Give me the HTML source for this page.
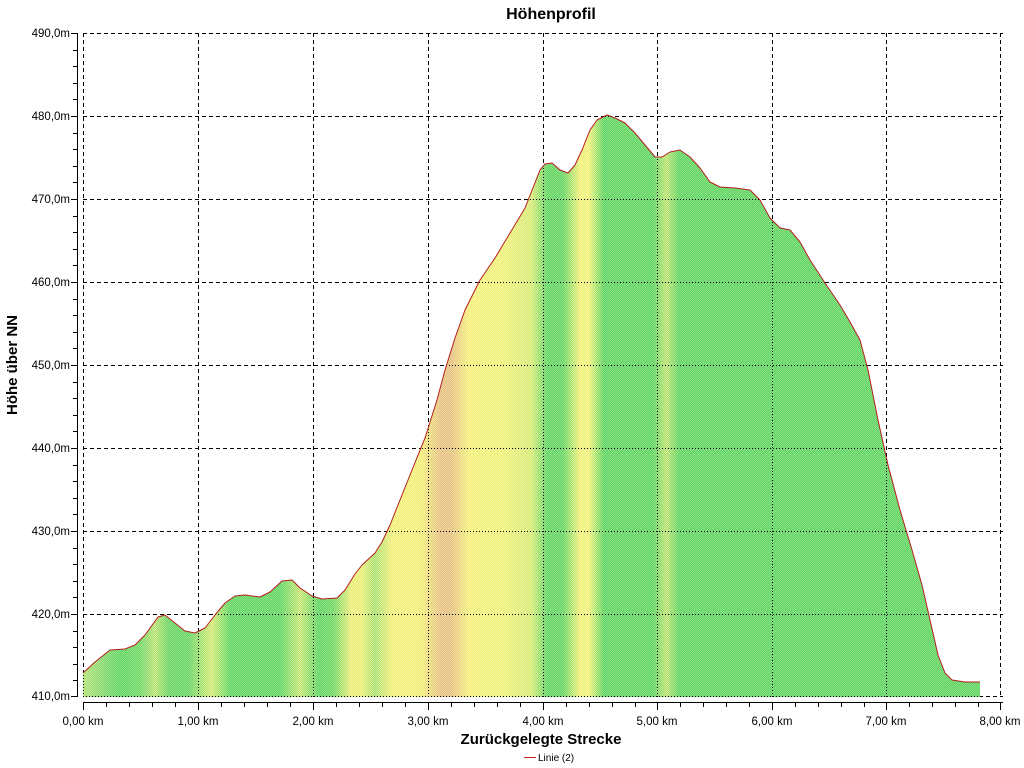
<!DOCTYPE html>
<html><head><meta charset="utf-8"><style>
body{margin:0;background:#fff;}
svg{display:block;font-family:"Liberation Sans",sans-serif;}
</style></head><body>
<svg width="1024" height="768" viewBox="0 0 1024 768" xmlns="http://www.w3.org/2000/svg">
<defs>
<linearGradient id="g" gradientUnits="userSpaceOnUse" x1="83" y1="0" x2="1003" y2="0">
<stop offset="0" stop-color="#b0e272"/>
<stop offset="0.02" stop-color="#84d86a"/>
<stop offset="0.04" stop-color="#5cd45c"/>
<stop offset="0.062" stop-color="#6cd660"/>
<stop offset="0.078" stop-color="#b8e270"/>
<stop offset="0.094" stop-color="#64d45e"/>
<stop offset="0.115" stop-color="#64d45e"/>
<stop offset="0.140" stop-color="#d4ea72"/>
<stop offset="0.16" stop-color="#5cd45c"/>
<stop offset="0.215" stop-color="#60d45e"/>
<stop offset="0.236" stop-color="#c4e66e"/>
<stop offset="0.256" stop-color="#5cd45c"/>
<stop offset="0.272" stop-color="#6cd660"/>
<stop offset="0.292" stop-color="#eeee74"/>
<stop offset="0.303" stop-color="#eaee74"/>
<stop offset="0.317" stop-color="#a8e06c"/>
<stop offset="0.336" stop-color="#f2f076"/>
<stop offset="0.368" stop-color="#f2ee76"/>
<stop offset="0.388" stop-color="#e6c27e"/>
<stop offset="0.401" stop-color="#e6c27e"/>
<stop offset="0.42" stop-color="#f4f076"/>
<stop offset="0.46" stop-color="#eef076"/>
<stop offset="0.488" stop-color="#d4ea72"/>
<stop offset="0.505" stop-color="#5cd45c"/>
<stop offset="0.522" stop-color="#64d45e"/>
<stop offset="0.540" stop-color="#f2f076"/>
<stop offset="0.550" stop-color="#f0f076"/>
<stop offset="0.566" stop-color="#5cd45c"/>
<stop offset="0.62" stop-color="#5cd45c"/>
<stop offset="0.634" stop-color="#bce26e"/>
<stop offset="0.648" stop-color="#5cd45c"/>
<stop offset="1" stop-color="#5cd45c"/>
</linearGradient>
<pattern id="h" width="2" height="2" patternUnits="userSpaceOnUse">
<rect x="0" y="0" width="1" height="1" fill="#fff" fill-opacity="0.3"/>
<rect x="1" y="1" width="1" height="1" fill="#fff" fill-opacity="0.3"/>
</pattern>
<clipPath id="c"><path id="ap" d="M83,697 L83,673 L95,662 L110,650 L125,649 L135,645 L145,635 L158,617 L165,615 L175,623 L185,631 L195,633 L205,628 L215,615 L225,603 L235,596 L245,595 L260,597 L270,592 L282,581 L292,580 L300,588 L312,596 L322,599 L337,598 L345,590 L355,574 L362,565 L375,553 L382,542 L390,525 L400,500 L412,470 L425,438 L437,400 L445,370 L455,338 L465,310 L480,280 L495,258 L510,233 L525,208 L540,170 L545,164 L552,163 L560,170 L568,173 L575,165 L582,150 L590,130 L597,120 L607,115 L615,118 L625,123 L635,133 L645,145 L655,157 L662,157 L670,152 L680,150 L690,157 L700,168 L710,182 L720,187 L735,188 L750,190 L760,200 L770,218 L780,228 L790,230 L800,242 L810,260 L825,283 L840,305 L850,322 L860,340 L868,370 L878,420 L888,465 L900,510 L912,550 L922,585 L930,620 L938,655 L945,673 L952,680 L965,682 L980,682 L980,697 Z"/></clipPath>
</defs>
<text x="551" y="19" font-size="16" font-weight="bold" text-anchor="middle">Höhenprofil</text>
<g stroke="#000" stroke-width="1" stroke-dasharray="4,3">
<line x1="83" y1="33.5" x2="1003" y2="33.5"/><line x1="83" y1="116.5" x2="1003" y2="116.5"/><line x1="83" y1="199.5" x2="1003" y2="199.5"/><line x1="83" y1="282.5" x2="1003" y2="282.5"/><line x1="83" y1="365.5" x2="1003" y2="365.5"/><line x1="83" y1="448.5" x2="1003" y2="448.5"/><line x1="83" y1="531.5" x2="1003" y2="531.5"/><line x1="83" y1="614.5" x2="1003" y2="614.5"/><line x1="83" y1="696.5" x2="1003" y2="696.5"/>
<line x1="83.5" y1="33" x2="83.5" y2="697"/><line x1="198.5" y1="33" x2="198.5" y2="697"/><line x1="313.5" y1="33" x2="313.5" y2="697"/><line x1="428.5" y1="33" x2="428.5" y2="697"/><line x1="543.5" y1="33" x2="543.5" y2="697"/><line x1="657.5" y1="33" x2="657.5" y2="697"/><line x1="772.5" y1="33" x2="772.5" y2="697"/><line x1="886.5" y1="33" x2="886.5" y2="697"/><line x1="1000.5" y1="33" x2="1000.5" y2="697"/>
</g>
<g clip-path="url(#c)" stroke="#000" stroke-width="1" stroke-dasharray="1,2">
<rect x="83" y="30" width="920" height="670" fill="url(#g)" stroke="none"/>
<rect x="83" y="30" width="920" height="670" fill="url(#h)" stroke="none"/>
<line x1="83" y1="116.5" x2="1003" y2="116.5"/><line x1="83" y1="199.5" x2="1003" y2="199.5"/><line x1="83" y1="282.5" x2="1003" y2="282.5"/><line x1="83" y1="365.5" x2="1003" y2="365.5"/><line x1="83" y1="448.5" x2="1003" y2="448.5"/><line x1="83" y1="531.5" x2="1003" y2="531.5"/><line x1="83" y1="614.5" x2="1003" y2="614.5"/><line x1="83" y1="696.5" x2="1003" y2="696.5"/>
<line x1="83.5" y1="33" x2="83.5" y2="697"/><line x1="198.5" y1="33" x2="198.5" y2="697"/><line x1="313.5" y1="33" x2="313.5" y2="697"/><line x1="428.5" y1="33" x2="428.5" y2="697"/><line x1="543.5" y1="33" x2="543.5" y2="697"/><line x1="657.5" y1="33" x2="657.5" y2="697"/><line x1="772.5" y1="33" x2="772.5" y2="697"/><line x1="886.5" y1="33" x2="886.5" y2="697"/>
</g>
<path d="M83,673 L95,662 L110,650 L125,649 L135,645 L145,635 L158,617 L165,615 L175,623 L185,631 L195,633 L205,628 L215,615 L225,603 L235,596 L245,595 L260,597 L270,592 L282,581 L292,580 L300,588 L312,596 L322,599 L337,598 L345,590 L355,574 L362,565 L375,553 L382,542 L390,525 L400,500 L412,470 L425,438 L437,400 L445,370 L455,338 L465,310 L480,280 L495,258 L510,233 L525,208 L540,170 L545,164 L552,163 L560,170 L568,173 L575,165 L582,150 L590,130 L597,120 L607,115 L615,118 L625,123 L635,133 L645,145 L655,157 L662,157 L670,152 L680,150 L690,157 L700,168 L710,182 L720,187 L735,188 L750,190 L760,200 L770,218 L780,228 L790,230 L800,242 L810,260 L825,283 L840,305 L850,322 L860,340 L868,370 L878,420 L888,465 L900,510 L912,550 L922,585 L930,620 L938,655 L945,673 L952,680 L965,682 L980,682" fill="none" stroke="#b41e1e" stroke-width="1" stroke-linejoin="round"/>
<g stroke="#000" stroke-width="1">
<line x1="77.5" y1="33" x2="77.5" y2="697"/>
<line x1="83" y1="702.5" x2="1003" y2="702.5"/>
<line x1="71" y1="33.5" x2="78" y2="33.5"/><line x1="73" y1="50.5" x2="78" y2="50.5"/><line x1="73" y1="66.5" x2="78" y2="66.5"/><line x1="73" y1="83.5" x2="78" y2="83.5"/><line x1="73" y1="99.5" x2="78" y2="99.5"/>
<line x1="71" y1="116.5" x2="78" y2="116.5"/><line x1="73" y1="133.5" x2="78" y2="133.5"/><line x1="73" y1="149.5" x2="78" y2="149.5"/><line x1="73" y1="166.5" x2="78" y2="166.5"/><line x1="73" y1="182.5" x2="78" y2="182.5"/>
<line x1="71" y1="199.5" x2="78" y2="199.5"/><line x1="73" y1="216.5" x2="78" y2="216.5"/><line x1="73" y1="232.5" x2="78" y2="232.5"/><line x1="73" y1="249.5" x2="78" y2="249.5"/><line x1="73" y1="265.5" x2="78" y2="265.5"/>
<line x1="71" y1="282.5" x2="78" y2="282.5"/><line x1="73" y1="299.5" x2="78" y2="299.5"/><line x1="73" y1="315.5" x2="78" y2="315.5"/><line x1="73" y1="332.5" x2="78" y2="332.5"/><line x1="73" y1="348.5" x2="78" y2="348.5"/>
<line x1="71" y1="365.5" x2="78" y2="365.5"/><line x1="73" y1="382.5" x2="78" y2="382.5"/><line x1="73" y1="398.5" x2="78" y2="398.5"/><line x1="73" y1="415.5" x2="78" y2="415.5"/><line x1="73" y1="431.5" x2="78" y2="431.5"/>
<line x1="71" y1="448.5" x2="78" y2="448.5"/><line x1="73" y1="465.5" x2="78" y2="465.5"/><line x1="73" y1="481.5" x2="78" y2="481.5"/><line x1="73" y1="498.5" x2="78" y2="498.5"/><line x1="73" y1="514.5" x2="78" y2="514.5"/>
<line x1="71" y1="531.5" x2="78" y2="531.5"/><line x1="73" y1="548.5" x2="78" y2="548.5"/><line x1="73" y1="564.5" x2="78" y2="564.5"/><line x1="73" y1="581.5" x2="78" y2="581.5"/><line x1="73" y1="597.5" x2="78" y2="597.5"/>
<line x1="71" y1="614.5" x2="78" y2="614.5"/><line x1="73" y1="631.5" x2="78" y2="631.5"/><line x1="73" y1="647.5" x2="78" y2="647.5"/><line x1="73" y1="664.5" x2="78" y2="664.5"/><line x1="73" y1="680.5" x2="78" y2="680.5"/>
<line x1="71" y1="696.5" x2="78" y2="696.5"/>
<line x1="83.5" y1="702" x2="83.5" y2="710"/><line x1="106.5" y1="702" x2="106.5" y2="707"/><line x1="129.5" y1="702" x2="129.5" y2="707"/><line x1="152.5" y1="702" x2="152.5" y2="707"/><line x1="175.5" y1="702" x2="175.5" y2="707"/>
<line x1="198.5" y1="702" x2="198.5" y2="710"/><line x1="221.5" y1="702" x2="221.5" y2="707"/><line x1="244.5" y1="702" x2="244.5" y2="707"/><line x1="267.5" y1="702" x2="267.5" y2="707"/><line x1="290.5" y1="702" x2="290.5" y2="707"/>
<line x1="313.5" y1="702" x2="313.5" y2="710"/><line x1="336.5" y1="702" x2="336.5" y2="707"/><line x1="359.5" y1="702" x2="359.5" y2="707"/><line x1="382.5" y1="702" x2="382.5" y2="707"/><line x1="405.5" y1="702" x2="405.5" y2="707"/>
<line x1="428.5" y1="702" x2="428.5" y2="710"/><line x1="451.5" y1="702" x2="451.5" y2="707"/><line x1="474.5" y1="702" x2="474.5" y2="707"/><line x1="497.5" y1="702" x2="497.5" y2="707"/><line x1="520.5" y1="702" x2="520.5" y2="707"/>
<line x1="543.5" y1="702" x2="543.5" y2="710"/><line x1="566.5" y1="702" x2="566.5" y2="707"/><line x1="589.5" y1="702" x2="589.5" y2="707"/><line x1="612.5" y1="702" x2="612.5" y2="707"/><line x1="635.5" y1="702" x2="635.5" y2="707"/>
<line x1="657.5" y1="702" x2="657.5" y2="710"/><line x1="680.5" y1="702" x2="680.5" y2="707"/><line x1="703.5" y1="702" x2="703.5" y2="707"/><line x1="726.5" y1="702" x2="726.5" y2="707"/><line x1="749.5" y1="702" x2="749.5" y2="707"/>
<line x1="772.5" y1="702" x2="772.5" y2="710"/><line x1="795.5" y1="702" x2="795.5" y2="707"/><line x1="818.5" y1="702" x2="818.5" y2="707"/><line x1="841.5" y1="702" x2="841.5" y2="707"/><line x1="864.5" y1="702" x2="864.5" y2="707"/>
<line x1="886.5" y1="702" x2="886.5" y2="710"/><line x1="909.5" y1="702" x2="909.5" y2="707"/><line x1="932.5" y1="702" x2="932.5" y2="707"/><line x1="955.5" y1="702" x2="955.5" y2="707"/><line x1="978.5" y1="702" x2="978.5" y2="707"/>
<line x1="1000.5" y1="702" x2="1000.5" y2="710"/>
</g>
<g font-size="11.5" text-anchor="end" fill="#000">
<text x="70" y="37">490,0m</text><text x="70" y="120">480,0m</text><text x="70" y="203">470,0m</text><text x="70" y="286">460,0m</text><text x="70" y="369">450,0m</text><text x="70" y="452">440,0m</text><text x="70" y="535">430,0m</text><text x="70" y="618">420,0m</text><text x="70" y="700">410,0m</text>
</g>
<g font-size="11.5" text-anchor="middle" fill="#000">
<text x="83" y="725">0,00 km</text><text x="198" y="725">1,00 km</text><text x="313" y="725">2,00 km</text><text x="428" y="725">3,00 km</text><text x="543" y="725">4,00 km</text><text x="657" y="725">5,00 km</text><text x="772" y="725">6,00 km</text><text x="886" y="725">7,00 km</text><text x="1000" y="725">8,00 km</text>
</g>
<text x="541" y="744" font-size="15" font-weight="bold" text-anchor="middle">Zurückgelegte Strecke</text>
<text transform="translate(17,365) rotate(-90)" font-size="15" font-weight="bold" text-anchor="middle">Höhe über NN</text>
<line x1="524" y1="757.5" x2="536" y2="757.5" stroke="#c81e1e"/>
<text x="538" y="761" font-size="10">Linie (2)</text>
</svg>
</body></html>
